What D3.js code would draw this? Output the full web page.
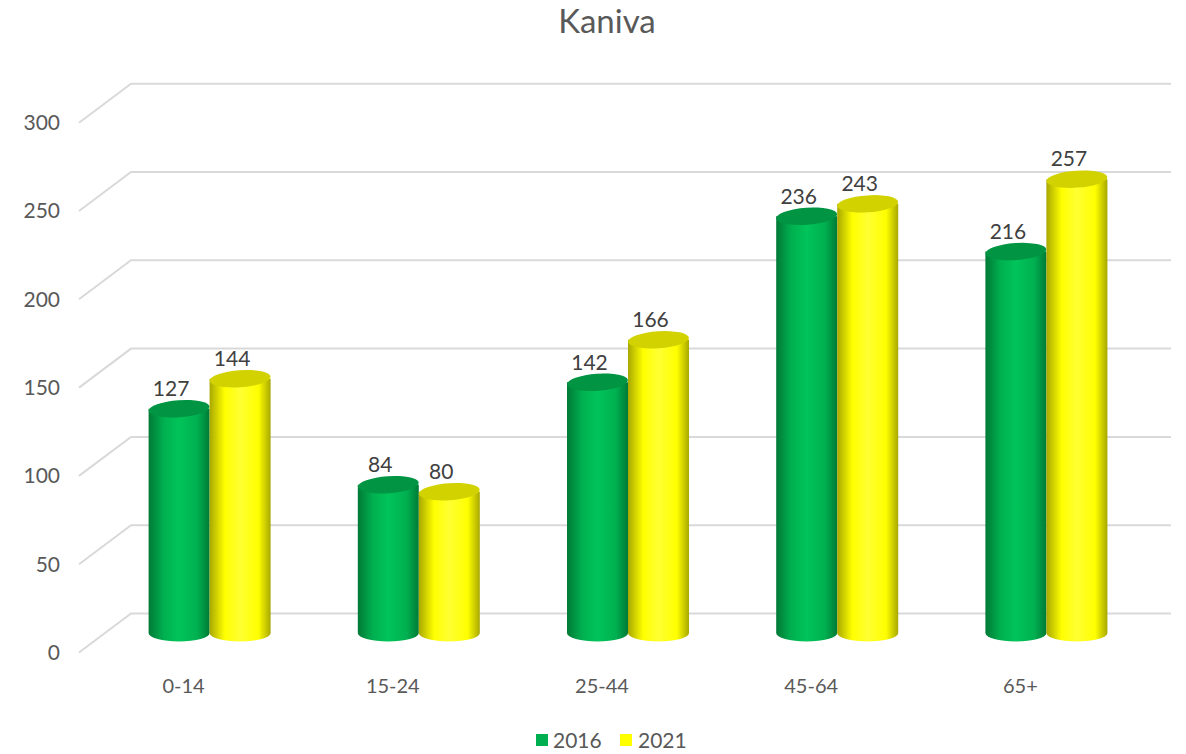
<!DOCTYPE html>
<html><head><meta charset="utf-8">
<script src="https://cdn.jsdelivr.net/npm/d3@7"></script>
<style>body{margin:0;background:#fff}svg{display:block}</style>
</head><body>
<svg id="c" width="1186" height="754"></svg>
<script>
const title = "Kaniva";
const categories = ["0-14","15-24","25-44","45-64","65+"];
const seriesNames = ["2016","2021"];
const values2016 = [127,84,142,236,216];
const values2021 = [144,80,166,243,257];
const yTicks = [0,50,100,150,200,250,300];

const svg = d3.select("#c");
const font = "Lato, 'Open Sans', sans-serif";
const colors = {
  "2016": {base:"#00B050", edge:"#007a36", light:"#00c45a", top:"#009443"},
  "2021": {base:"#FFFF00", edge:"#a8a800", light:"#ffff33", top:"#d2d200"}
};
const depthDX = 26, depthDY = 19.5;
const y = d3.scaleLinear().domain([0,300]).range([633, 633-300*1.766]);
const x = d3.scaleBand().domain(categories).range([105,1151]).padding(0);
const r = 30.5, ry = 8.5;

const defs = svg.append("defs");
seriesNames.forEach(s=>{
  const c = colors[s];
  const g = defs.append("linearGradient").attr("id","g"+s).attr("x1","0").attr("x2","1").attr("y1","0").attr("y2","0");
  [[0,c.edge],[0.25,c.base],[0.5,c.light],[0.8,c.base],[1,c.edge]].forEach(([o,col])=>g.append("stop").attr("offset",o).attr("stop-color",col));
});

svg.append("text").attr("x",607).attr("y",33).attr("text-anchor","middle")
  .attr("font-family",font).attr("font-size",33).attr("fill","#595959").text(title);

const grid = svg.append("g");
yTicks.forEach(t=>{
  const yb = y(t) - depthDY;
  const xb = x.range()[0] + depthDX;
  grid.append("path").attr("d",`M${xb-52},${yb+39}L${xb},${yb}L${x.range()[1]+depthDX-6},${yb}`)
    .attr("fill","none").attr("stroke","#d9d9d9").attr("stroke-width",2);
  svg.append("text").attr("x",60).attr("y",y(t)+depthDY).attr("dy","0.35em").attr("text-anchor","end")
    .attr("font-family",font).attr("font-size",21).attr("fill","#595959").text(t);
});

categories.forEach(cat=>{
  svg.append("text").attr("x",x(cat)+x.bandwidth()/2-depthDX).attr("y",686).attr("dy","0.35em")
    .attr("text-anchor","middle").attr("font-family",font).attr("font-size",20).attr("fill","#595959").text(cat);
});

const bars = svg.append("g");
const series = [["2016",values2016,-1],["2021",values2021,1]];
categories.forEach((cat,i)=>{
  series.forEach(([s,vals,side])=>{
    const c = colors[s];
    const cx = x(cat)+x.bandwidth()/2 + side*r;
    const yt = y(vals[i]), yb = y(0);
    const g = bars.append("g");
    g.append("path").attr("d",
      `M${cx-r},${yt}L${cx-r},${yb}A${r},${ry} 0 0 0 ${cx+r},${yb}L${cx+r},${yt}Z`)
      .attr("fill",`url(#g${s})`);
    g.append("ellipse").attr("cx",cx).attr("cy",yt).attr("rx",r).attr("ry",ry)
      .attr("transform",`rotate(-4,${cx},${yt})`).attr("fill",c.top);
    svg.append("text").attr("x",cx-8).attr("y",yt-20).attr("dy","0.35em").attr("text-anchor","middle")
      .attr("font-family",font).attr("font-size",21).attr("fill","#404040").text(vals[i]);
  });
});

const leg = svg.append("g");
[["2016",536,553],["2021",620,638]].forEach(([s,xs,xt])=>{
  leg.append("rect").attr("x",xs).attr("y",734).attr("width",12).attr("height",12).attr("fill",colors[s].base);
  leg.append("text").attr("x",xt).attr("y",741).attr("dy","0.35em").attr("font-family",font)
    .attr("font-size",21).attr("fill","#595959").text(s);
});
</script>
</body></html>
